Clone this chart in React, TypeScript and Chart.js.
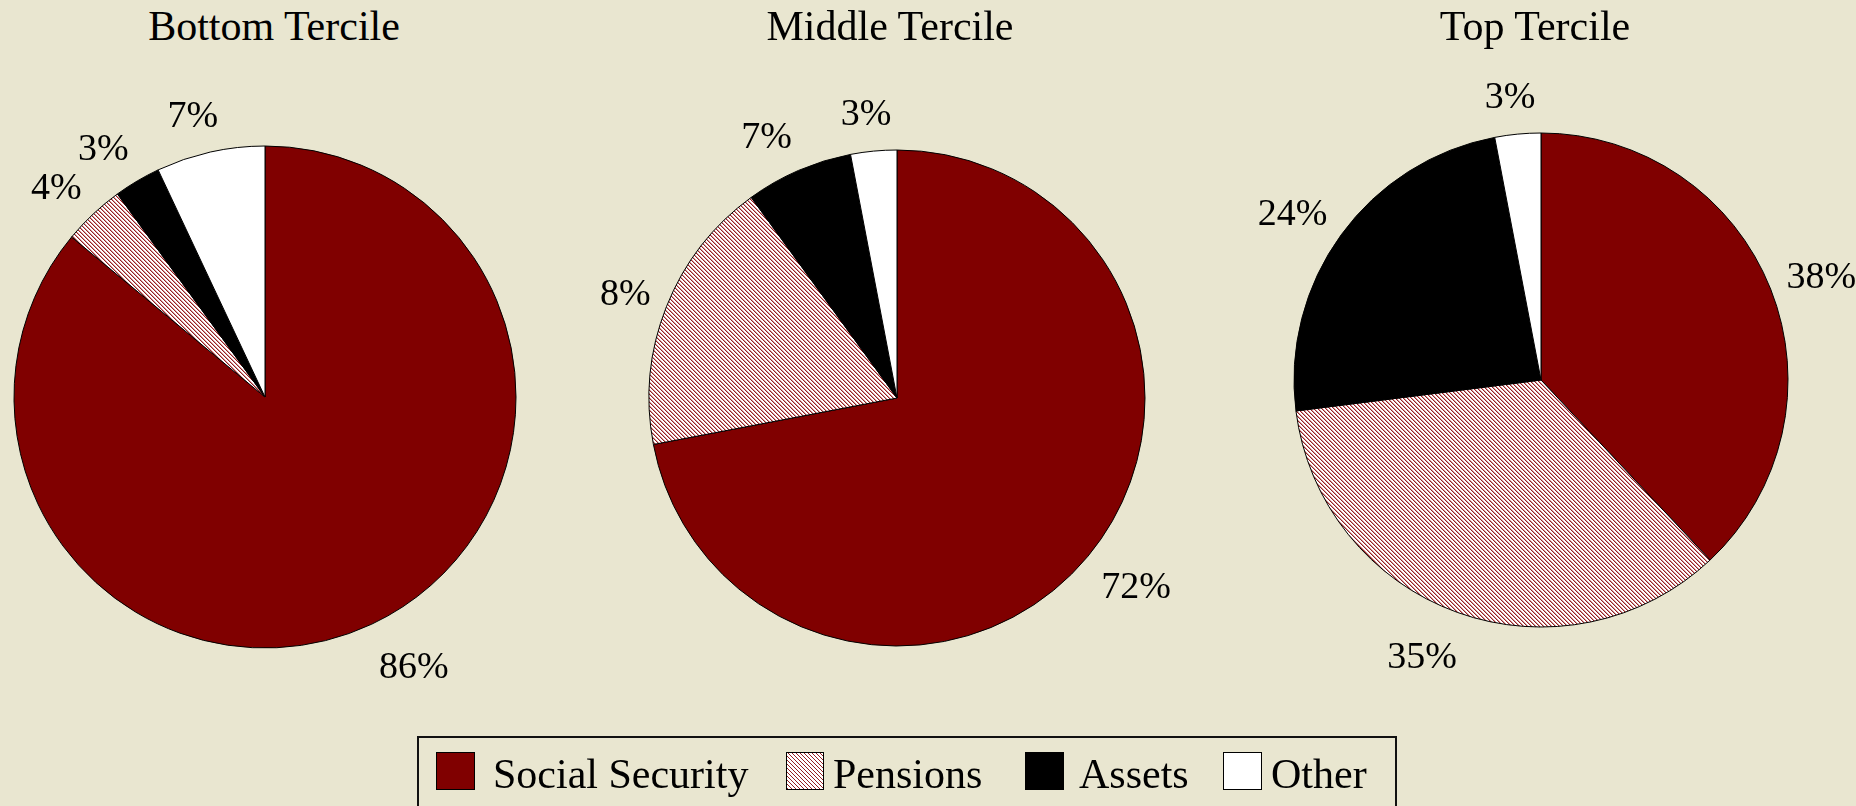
import React, { useEffect, useRef } from "react";
import { Chart, registerables } from "chart.js";

Chart.register(...registerables);

// ---- data ----
const categories = ["Social Security", "Pensions", "Assets", "Other"];
const panelTitles = ["Bottom Tercile", "Middle Tercile", "Top Tercile"];
const bottomValues = [86, 4, 3, 7];
const middleValues = [72, 18, 7, 3];
const topValues = [38, 35, 24, 3];
const bottomLabels = ["86%", "4%", "3%", "7%"];
const middleLabels = ["72%", "8%", "7%", "3%"];
const topLabels = ["38%", "35%", "24%", "3%"];

// ---- layout / style ----
const BG = "#E9E6D0";
const SERIF = '"Liberation Serif", "Times New Roman", serif';
const CANVAS = 680;
const panels = [
  { values: bottomValues, labels: bottomLabels, title: panelTitles[0], cx: 265, cy: 397, r: 251, titleX: 274 },
  { values: middleValues, labels: middleLabels, title: panelTitles[1], cx: 897, cy: 398, r: 248, titleX: 890 },
  { values: topValues, labels: topLabels, title: panelTitles[2], cx: 1541, cy: 380, r: 247, titleX: 1535 },
];

function makeHatch(): CanvasPattern | string {
  const c = document.createElement("canvas");
  c.width = 4;
  c.height = 4;
  const g = c.getContext("2d");
  if (!g) return "#C88";
  g.fillStyle = "#FFFFFF";
  g.fillRect(0, 0, 4, 4);
  for (let y = 0; y < 4; y++) {
    g.fillStyle = "#962024";
    g.fillRect(y, y, 1, 1);
    g.fillStyle = "#D49A9A";
    g.fillRect((y + 1) % 4, y, 1, 1);
  }
  const main = document.createElement("canvas").getContext("2d");
  const p = main ? main.createPattern(c, "repeat") : null;
  return p || "#C88";
}

const labelPlugin = {
  id: "outerLabels",
  afterDatasetsDraw(chart: any, _args: any, opts: any) {
    const ctx = chart.ctx;
    const meta = chart.getDatasetMeta(0);
    const texts: string[] = opts.texts || [];
    const fs = 38;
    ctx.save();
    ctx.font = `${fs}px ${SERIF}`;
    ctx.fillStyle = "#000";
    ctx.textAlign = "center";
    ctx.textBaseline = "alphabetic";
    meta.data.forEach((arc: any, i: number) => {
      const { x, y, startAngle, endAngle, outerRadius } = arc.getProps(
        ["x", "y", "startAngle", "endAngle", "outerRadius"],
        true
      );
      const mid = (startAngle + endAngle) / 2;
      const dx = Math.cos(mid);
      const dy = Math.sin(mid);
      const t = texts[i] ?? "";
      const w = ctx.measureText(t).width;
      const h = fs * 0.68;
      const gapX = 17;
      const gapY = dy < 0 ? 26 : 32;
      const hx = Math.max(-1, Math.min(1, dx * 2.5));
      const lx = x + dx * (outerRadius + gapX) + (hx * w) / 2;
      const ly = y + dy * (outerRadius + gapY) + (dy * h) / 2;
      ctx.fillText(t, lx, ly + h / 2);
    });
    ctx.restore();
  },
};

function PiePanel({ panel }: { panel: (typeof panels)[number] }) {
  const ref = useRef<HTMLCanvasElement | null>(null);
  useEffect(() => {
    if (!ref.current) return;
    const hatch = makeHatch();
    const chart = new Chart(ref.current, {
      type: "pie",
      data: {
        labels: categories,
        datasets: [
          {
            data: panel.values,
            backgroundColor: ["#800000", hatch as any, "#000000", "#FFFFFF"],
            borderColor: "#000000",
            borderWidth: 1,
            radius: panel.r,
          } as any,
        ],
      },
      options: {
        animation: false,
        responsive: false,
        maintainAspectRatio: false,
        events: [],
        layout: { padding: 0 },
        plugins: {
          legend: { display: false },
          tooltip: { enabled: false },
          title: { display: false },
          outerLabels: { texts: panel.labels },
        } as any,
      },
      plugins: [labelPlugin as any],
    });
    return () => chart.destroy();
  }, [panel]);
  return (
    <canvas
      ref={ref}
      width={CANVAS}
      height={CANVAS}
      style={{
        position: "absolute",
        left: panel.cx - CANVAS / 2,
        top: panel.cy - CANVAS / 2,
        width: CANVAS,
        height: CANVAS,
      }}
    />
  );
}

const legendItems = [
  { swatchLeft: 436, swatchW: 39, textLeft: 493, fill: "#800000" },
  { swatchLeft: 786, swatchW: 38, textLeft: 833, fill: "hatch" },
  { swatchLeft: 1025, swatchW: 39, textLeft: 1079, fill: "#000000" },
  { swatchLeft: 1223, swatchW: 39, textLeft: 1271, fill: "#FFFFFF" },
];

export default function App() {
  useEffect(() => {
    document.body.style.margin = "0";
    document.body.style.background = BG;
  }, []);
  const textStyle = (left: number, baseline: number): React.CSSProperties => ({
    position: "absolute",
    left,
    top: baseline - 35.2,
    fontFamily: SERIF,
    fontSize: 42,
    lineHeight: "42px",
    whiteSpace: "nowrap",
    color: "#000",
  });
  return (
    <div
      style={{
        position: "absolute",
        left: 0,
        top: 0,
        width: 1856,
        height: 806,
        background: BG,
        overflow: "hidden",
      }}
    >
      {panels.map((p, i) => (
        <PiePanel key={i} panel={p} />
      ))}
      {panels.map((p, i) => (
        <div
          key={"t" + i}
          style={{
            ...textStyle(p.titleX - 250, 40),
            width: 500,
            textAlign: "center",
          }}
        >
          {p.title}
        </div>
      ))}
      <div
        style={{
          position: "absolute",
          left: 417,
          top: 736,
          width: 980,
          height: 120,
          border: "2px solid #111",
          boxSizing: "border-box",
        }}
      />
      {legendItems.map((it, i) => (
        <React.Fragment key={"l" + i}>
          <div
            style={{
              position: "absolute",
              left: it.swatchLeft,
              top: 752,
              width: it.swatchW,
              height: 38,
              boxSizing: "border-box",
              border: "1.5px solid #000",
              background:
                it.fill === "hatch"
                  ? "repeating-linear-gradient(45deg, #962024 0px, #962024 1.2px, #FFFFFF 1.2px, #FFFFFF 2.83px)"
                  : it.fill,
            }}
          />
          <div style={textStyle(it.textLeft, 788)}>{categories[i]}</div>
        </React.Fragment>
      ))}
    </div>
  );
}
